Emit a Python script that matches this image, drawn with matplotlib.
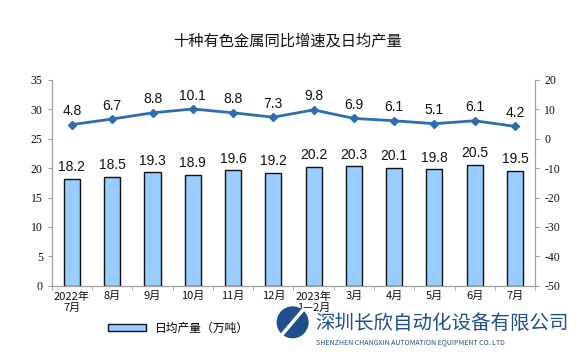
import matplotlib
matplotlib.use("Agg")
import matplotlib.pyplot as plt
from matplotlib.patches import Ellipse
import numpy as np

plt.rcParams['font.family'] = ['Noto Sans CJK SC', 'DejaVu Sans']
plt.rcParams['axes.unicode_minus'] = False

categories = ["2022年\n7月", "8月", "9月", "10月", "11月", "12月", "2023年\n1—2月",
              "3月", "4月", "5月", "6月", "7月"]
daily_output = [18.2, 18.5, 19.3, 18.9, 19.6, 19.2, 20.2, 20.3, 20.1, 19.8, 20.5, 19.5]
growth_rate = [4.8, 6.7, 8.8, 10.1, 8.8, 7.3, 9.8, 6.9, 6.1, 5.1, 6.1, 4.2]
left_ticks = [0, 5, 10, 15, 20, 25, 30, 35]
right_ticks = [-50, -40, -30, -20, -10, 0, 10, 20]

fig = plt.figure(figsize=(5.76, 3.55), dpi=100)
ax = fig.add_axes([0.090, 0.195, 0.839, 0.58])
x = np.arange(len(categories))

bars = ax.bar(x, daily_output, width=0.4, color="#99ccff", edgecolor="#111111",
              linewidth=1.0, label="日均产量（万吨）", zorder=2)
ax.set_xlim(-0.5, len(categories) - 0.5)
ax.set_ylim(0, 35)
ax.set_yticks(left_ticks)
for xi, v in zip(x, daily_output):
    ax.text(xi, v + 0.8, f"{v:.1f}", ha="center", va="bottom", fontsize=10,
            family="Liberation Sans", color="#111111")

ax2 = ax.twinx()
ax2.plot(x, growth_rate, color="#2e6db4", linewidth=2.0, marker="D", markersize=4,
         zorder=3)
ax2.set_ylim(-50, 20)
ax2.set_yticks(right_ticks)
for xi, v in zip(x, growth_rate):
    ax2.text(xi, v + 2.2, f"{v:.1f}", ha="center", va="bottom", fontsize=10,
             family="Liberation Sans", color="#111111")

for a in (ax, ax2):
    a.spines["top"].set_visible(False)
    for s in ("left", "right", "bottom"):
        a.spines[s].set_color("#a0a0a0")
        a.spines[s].set_linewidth(0.8)
    a.tick_params(axis="y", colors="#a0a0a0", length=3, width=0.8, labelsize=8.5,
                  labelcolor="#111111")
ax.set_xticks(x)
ax.set_xticklabels(categories, fontsize=8, color="#111111", linespacing=1.1)
ax.tick_params(axis="x", length=0, pad=4)
ax.set_xticks(np.arange(-0.5, len(categories), 1), minor=True)
ax.tick_params(axis="x", which="minor", length=3, color="#a0a0a0")
for lbl in ax.get_yticklabels() + ax2.get_yticklabels():
    lbl.set_family("Liberation Serif")

fig.text(0.5, 0.885, "十种有色金属同比增速及日均产量", ha="center", va="center",
         fontsize=11, color="#111111", fontweight="medium")

leg = ax.legend(loc="center", bbox_to_anchor=(0.31, 0.076), bbox_transform=fig.transFigure,
                frameon=False, fontsize=8.5, handlelength=3.2, handleheight=0.6)

# watermark logo + company name
logo = Ellipse((0.508, 0.092), width=32 / 576, height=32 / 355, transform=fig.transFigure,
               facecolor="#1f4e8c", edgecolor="none")
fig.add_artist(logo)
fig.lines.append(plt.Line2D([0.490, 0.526], [0.058, 0.127], transform=fig.transFigure,
                            color="white", linewidth=2.5))
fig.text(0.548, 0.090, "深圳长欣自动化设备有限公司", ha="left", va="center",
         fontsize=14, color="#1f4e8c")
fig.text(0.548, 0.036, "SHENZHEN CHANGXIN AUTOMATION EQUIPMENT CO. LTD", ha="left",
         va="center", fontsize=5, color="#1f4e8c")

fig.savefig("out.png", dpi=100)
